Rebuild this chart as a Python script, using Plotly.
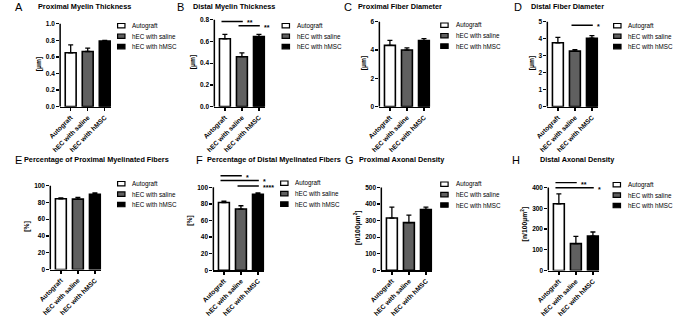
import plotly.graph_objects as go

# ---------------- data ----------------
categories = ["Autograft", "hEC with saline", "hEC with hMSC"]
bar_colors = ["#ffffff", "#606060", "#000000"]

panel_letters = ["A", "B", "C", "D", "E", "F", "G", "H"]
panel_titles = [
    "Proximal Myelin Thickness",
    "Distal Myelin Thickness",
    "Proximal Fiber Diameter",
    "Distal Fiber Diameter",
    "Percentage of Proximal Myelinated Fibers",
    "Percentage of Distal Myelinated Fibers",
    "Proximal Axonal Density",
    "Distal Axonal Density",
]
y_titles = ["[µm]", "[µm]", "[µm]", "[µm]", "[%]", "[%]",
            "[n/100µm<sup>2</sup>]", "[n/100µm<sup>2</sup>]"]

means_A = [0.65, 0.665, 0.79]
err_A = [0.095, 0.04, 0.008]
means_B = [0.625, 0.46, 0.645]
err_B = [0.04, 0.035, 0.02]
means_C = [4.33, 4.0, 4.67]
err_C = [0.36, 0.15, 0.13]
means_D = [3.76, 3.27, 4.03]
err_D = [0.32, 0.09, 0.15]
means_E = [84.3, 83.9, 89.8]
err_E = [1.2, 2.0, 1.5]
means_F = [81.7, 73.8, 91.7]
err_F = [1.5, 4.0, 1.5]
means_G = [316, 288, 368]
err_G = [66, 46, 14]
means_H = [322, 130, 166]
err_H = [48, 35, 20]

ticks_A = [0.0, 0.2, 0.4, 0.6, 0.8, 1.0]
ticks_B = [0.0, 0.2, 0.4, 0.6, 0.8]
ticks_C = [0, 2, 4, 6]
ticks_D = [0, 1, 2, 3, 4, 5]
ticks_E = [0, 20, 40, 60, 80, 100]
ticks_F = [0, 20, 40, 60, 80, 100]
ticks_G = [0, 100, 200, 300, 400, 500]
ticks_H = [0, 100, 200, 300, 400]

# significance comparisons: (bar i, bar j, y level, label)
sig_A = []
sig_B = [(0, 1, 0.784, "**"), (1, 2, 0.745, "**")]
sig_C = []
sig_D = [(1, 2, 4.79, "*")]
sig_E = []
sig_F = [(0, 1, 113.9, "*"), (0, 2, 108.3, "*"), (1, 2, 101.6, "****")]
sig_G = []
sig_H = [(0, 1, 424, "**"), (0, 2, 399, "*")]

all_means = [means_A, means_B, means_C, means_D, means_E, means_F, means_G, means_H]
all_errs = [err_A, err_B, err_C, err_D, err_E, err_F, err_G, err_H]
all_ticks = [ticks_A, ticks_B, ticks_C, ticks_D, ticks_E, ticks_F, ticks_G, ticks_H]
all_sigs = [sig_A, sig_B, sig_C, sig_D, sig_E, sig_F, sig_G, sig_H]
tick_formats = [".1f", ".1f", "d", "d", "d", "d", "d", "d"]

# ---------------- layout (pixels) ----------------
FW, FH = 676, 317
PW = 52  # plot width in px
ax_x = [49, 206, 374, 545, 39, 205, 376, 546]
zero_y = [107, 107, 107, 107, 272, 272.7, 272.7, 273]
top_y = [23, 19, 21, 21, 187, 188.7, 189, 189]
ext = [1.03, 1.03, 1.03, 1.03, 1.03, 1.2, 1.03, 1.12]
letter_x = [1, 166, 336, 509, 1, 185, 337, 507]
title_x = [24, 182, 350, 526, 10, 196, 351, 535]
row_y = [6, 6, 6, 6, 161, 161, 161, 161]
leg_x = [107.5, 275, 436.5, 612.5, 107.5, 273.5, 436.5, 612]
leg_y0 = [25, 25, 24.5, 25, 185, 184.5, 185.5, 186]
LEG_DY = 10.6

FONT = "Liberation Sans"

fig = go.Figure()
shapes = []
annotations = []
layout_axes = {}

for k in range(8):
    suf = "" if k == 0 else str(k + 1)
    xname, yname = "x" + suf, "y" + suf
    ymax = all_ticks[k][-1]
    ytop = ymax * ext[k]
    top_px = zero_y[k] - (zero_y[k] - top_y[k]) * ext[k]

    fig.add_trace(go.Bar(
        x=categories, y=all_means[k],
        error_y=dict(type="data", array=all_errs[k], arrayminus=[0, 0, 0],
                     symmetric=False, color="black", thickness=1.3, width=2.5),
        marker=dict(color=bar_colors, line=dict(color="black", width=1.6)),
        width=0.64, xaxis=xname, yaxis=yname, showlegend=False,
        hoverinfo="skip",
    ))

    layout_axes["xaxis" + suf] = dict(
        domain=[ax_x[k] / FW, (ax_x[k] + PW) / FW], anchor=yname,
        range=[-0.62, 2.38], showline=True, linecolor="black", linewidth=1.5,
        ticks="outside", ticklen=3, tickwidth=1.3, tickcolor="black",
        tickangle=-45, tickfont=dict(family=FONT, size=6.6, color="black", weight="bold"),
        showgrid=False, zeroline=False, fixedrange=True,
    )
    layout_axes["yaxis" + suf] = dict(
        domain=[1 - zero_y[k] / FH, 1 - top_px / FH], anchor=xname,
        range=[0, ytop], showline=False,
        ticks="outside", ticklen=3, tickwidth=1.3, tickcolor="black",
        tickvals=all_ticks[k], tickformat=tick_formats[k],
        tickfont=dict(family=FONT, size=6.5, color="black", weight="bold"),
        title=dict(text=y_titles[k], standoff=3,
                   font=dict(family=FONT, size=6.8, color="black", weight="bold")),
        showgrid=False, zeroline=False, fixedrange=True,
    )
    shapes.append(dict(type="line", xref=xname + " domain", yref=yname,
                       x0=0, x1=0, y0=0, y1=ymax,
                       line=dict(color="black", width=1.5)))

    for (i, j, yv, lab) in all_sigs[k]:
        shapes.append(dict(type="line", xref=xname, yref=yname,
                           x0=i - 0.2, x1=j + 0.05, y0=yv, y1=yv,
                           line=dict(color="black", width=1.4)))
        annotations.append(dict(xref=xname, yref=yname, x=j + 0.05, y=yv,
                                xanchor="left", yanchor="middle", xshift=2, yshift=-1.5,
                                text=lab, showarrow=False,
                                font=dict(family=FONT, size=7, color="black", weight="bold")))

    annotations.append(dict(xref="paper", yref="paper", x=letter_x[k] / FW, y=1 - row_y[k] / FH,
                            xanchor="left", yanchor="middle", text=panel_letters[k],
                            showarrow=False, font=dict(family=FONT, size=11, color="black")))
    annotations.append(dict(xref="paper", yref="paper", x=title_x[k] / FW, y=1 - row_y[k] / FH,
                            xanchor="left", yanchor="middle", text=panel_titles[k],
                            showarrow=False,
                            font=dict(family=FONT, size=7.3, color="black", weight="bold")))
    for n, cat in enumerate(categories):
        cy = leg_y0[k] + n * LEG_DY
        shapes.append(dict(type="rect", xref="paper", yref="paper",
                           x0=leg_x[k] / FW, x1=(leg_x[k] + 7.5) / FW,
                           y0=1 - (cy + 2.2) / FH, y1=1 - (cy - 2.2) / FH,
                           fillcolor=bar_colors[n], line=dict(color="black", width=1.2)))
        annotations.append(dict(xref="paper", yref="paper", x=(leg_x[k] + 13) / FW, y=1 - cy / FH,
                                xanchor="left", yanchor="middle", text=cat, showarrow=False,
                                font=dict(family=FONT, size=6.3, color="black")))

fig.update_layout(
    width=FW, height=FH, autosize=False,
    margin=dict(l=0, r=0, t=0, b=0),
    paper_bgcolor="white", plot_bgcolor="white",
    shapes=shapes, annotations=annotations,
    showlegend=False, bargap=0.3,
    **layout_axes,
)

fig.write_html(
    "out.html",
    config={"displayModeBar": False, "staticPlot": True},
    post_script="document.body.style.margin='0';document.body.style.padding='0';"
                "document.documentElement.style.overflow='hidden';",
)
